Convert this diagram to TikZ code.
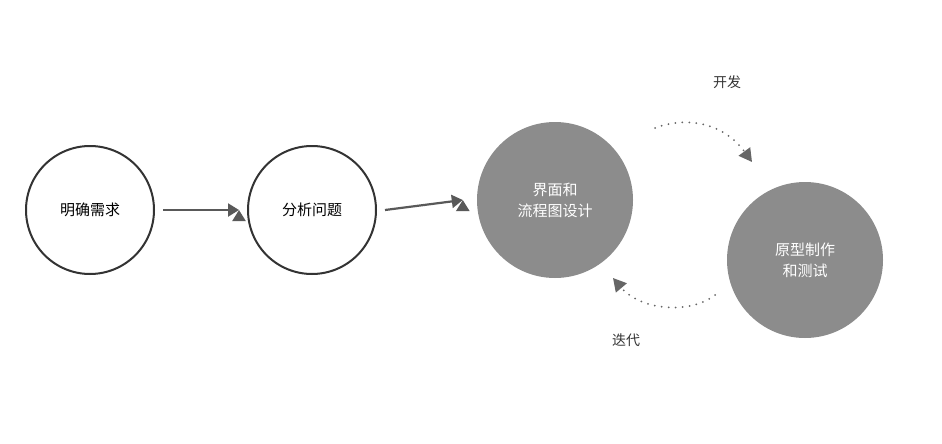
\documentclass[tikz,border=0pt]{standalone}
\usepackage{fontspec}
\setmainfont{Noto Sans CJK SC}
\usetikzlibrary{arrows.meta}
\begin{document}
\begin{tikzpicture}[x=1pt,y=-1pt,
  wc/.style={circle,draw=black!80,line width=2pt,minimum size=128pt,inner sep=0pt,font=\fontsize{15}{19}\selectfont,align=center},
  gc/.style={circle,fill=black!45,minimum size=156pt,inner sep=0pt,text=white,font=\fontsize{15}{21}\selectfont,align=center},
  arr/.style={draw=black!65,line width=2.2pt,-{Triangle[length=11pt,width=13pt]}},
  dots/.style={draw=black!60,line width=2pt,dash pattern=on 0pt off 7pt,line cap=round,-{Triangle[length=13pt,width=14pt]}},
  lab/.style={font=\fontsize{14}{16}\selectfont,text=black!80}]
\useasboundingbox (0,0) rectangle (942,444);
\node[wc] (a) at (90,210) {明确需求};
\node[wc] (b) at (312,210) {分析问题};
\node[gc] (c) at (555,200) {界面和\\流程图设计};
\node[gc] (d) at (805,260) {原型制作\\和测试};
\draw[arr] (a.east) ++(8,0) coordinate (a1) (b.west) ++(-8,0) coordinate (b1);
\draw[arr] (a1) -- (b1);
\draw[arr] (b.east) ++(8,0) coordinate (b2) (c.west) ++(-14,0) coordinate (c1);
\draw[arr] (b2) -- (c1);
\coordinate (p1) at (655,128); \coordinate (p2) at (752,162);
\draw[dots] (p1) .. controls (690,115) and (725,125) .. (p2);
\coordinate (q1) at (715,295); \coordinate (q2) at (613,278);
\draw[dots] (q1) .. controls (690,315) and (640,310) .. (q2);
\node[lab] (t1) at (727,82) {开发};
\node[lab] (t2) at (626,340) {迭代};
\end{tikzpicture}
\end{document}
